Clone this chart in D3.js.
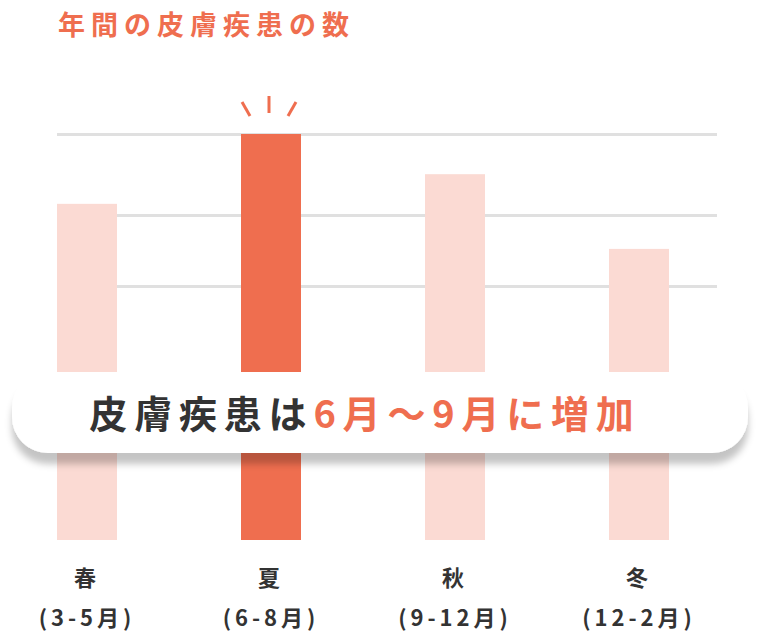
<!DOCTYPE html>
<html><head><meta charset="utf-8">
<script src="https://cdn.jsdelivr.net/npm/d3@7"></script>
<style>
html,body{margin:0;padding:0;background:#fff;}
svg{display:block;font-family:"Noto Sans CJK JP","Noto Sans",sans-serif;}
</style></head>
<body>
<svg id="chart" width="762" height="636"></svg>
<script>
const title = "年間の皮膚疾患の数";
const seasons = ["春", "夏", "秋", "冬"];
const months = ["(3-5月)", "(6-8月)", "(9-12月)", "(12-2月)"];
const values = [82.8, 100, 90.1, 71.7];
const highlight = ["夏"];
const gridValues = [62.5, 80, 100];
const bannerDark = "皮膚疾患は";
const bannerAccent = "6月〜9月に増加";

const ORANGE = "#ef6e4f", PALE = "#fbdad3", DARK = "#333333";
const svg = d3.select("#chart");

const x = d3.scaleBand().domain(seasons).range([57, 669]).paddingInner(124/184).paddingOuter(0);
const y = d3.scaleLinear().domain([0, 100]).range([540, 134]);

// title
svg.append("text").attr("x", 58).attr("y", 35)
  .attr("fill", ORANGE).attr("font-size", 27).attr("font-weight", 700)
  .attr("letter-spacing", 6).text(title);

// grid
svg.append("g").selectAll("line").data(gridValues).join("line")
  .attr("x1", 57).attr("x2", 717)
  .attr("y1", d => Math.round(y(d)) + 0.5).attr("y2", d => Math.round(y(d)) + 0.5)
  .attr("stroke", "#e0e0e0").attr("stroke-width", 3);

// bars
svg.append("g").selectAll("rect").data(seasons).join("rect")
  .attr("x", d => x(d)).attr("width", x.bandwidth())
  .attr("y", (d, i) => y(values[i])).attr("height", (d, i) => y(0) - y(values[i]))
  .attr("fill", d => highlight.includes(d) ? ORANGE : PALE);

// sparkle over highlighted bar
highlight.forEach(h => {
  const i = seasons.indexOf(h);
  const cx = x(h) + x.bandwidth() / 2 - 2;
  const top = y(values[i]);
  const g = svg.append("g").attr("stroke", ORANGE).attr("stroke-width", 3).attr("stroke-linecap", "butt");
  g.append("line").attr("x1", cx).attr("x2", cx).attr("y1", top - 38).attr("y2", top - 21);
  g.append("line").attr("x1", cx - 27).attr("x2", cx - 19).attr("y1", top - 32).attr("y2", top - 18);
  g.append("line").attr("x1", cx + 27).attr("x2", cx + 19).attr("y1", top - 32).attr("y2", top - 18);
});

// x labels
const lab = svg.append("g").attr("fill", DARK).attr("font-weight", 700).attr("text-anchor", "middle");
seasons.forEach((s, i) => {
  const cx = x(s) + x.bandwidth() / 2 - 2;
  lab.append("text").attr("x", cx).attr("y", 586).attr("font-size", 22).text(s);
  lab.append("text").attr("x", cx + 2).attr("y", 626).attr("font-size", 22).attr("letter-spacing", 4).text(months[i]);
});

// banner
const defs = svg.append("defs");
const f = defs.append("filter").attr("id", "sh").attr("x", "-10%").attr("y", "-30%").attr("width", "120%").attr("height", "180%");
f.append("feDropShadow").attr("dx", 0).attr("dy", 11).attr("stdDeviation", 3.5)
  .attr("flood-color", "#000").attr("flood-opacity", 0.23);
svg.append("rect").attr("x", 12).attr("y", 372).attr("width", 736).attr("height", 81)
  .attr("rx", 36).attr("fill", "#fff").attr("filter", "url(#sh)");
const bt = svg.append("text").attr("x", 365).attr("y", 428).attr("text-anchor", "middle")
  .attr("font-size", 38).attr("font-weight", 700).attr("letter-spacing", 6.8);
bt.append("tspan").attr("fill", DARK).text(bannerDark);
bt.append("tspan").attr("fill", ORANGE).text(bannerAccent);
</script>
</body></html>
